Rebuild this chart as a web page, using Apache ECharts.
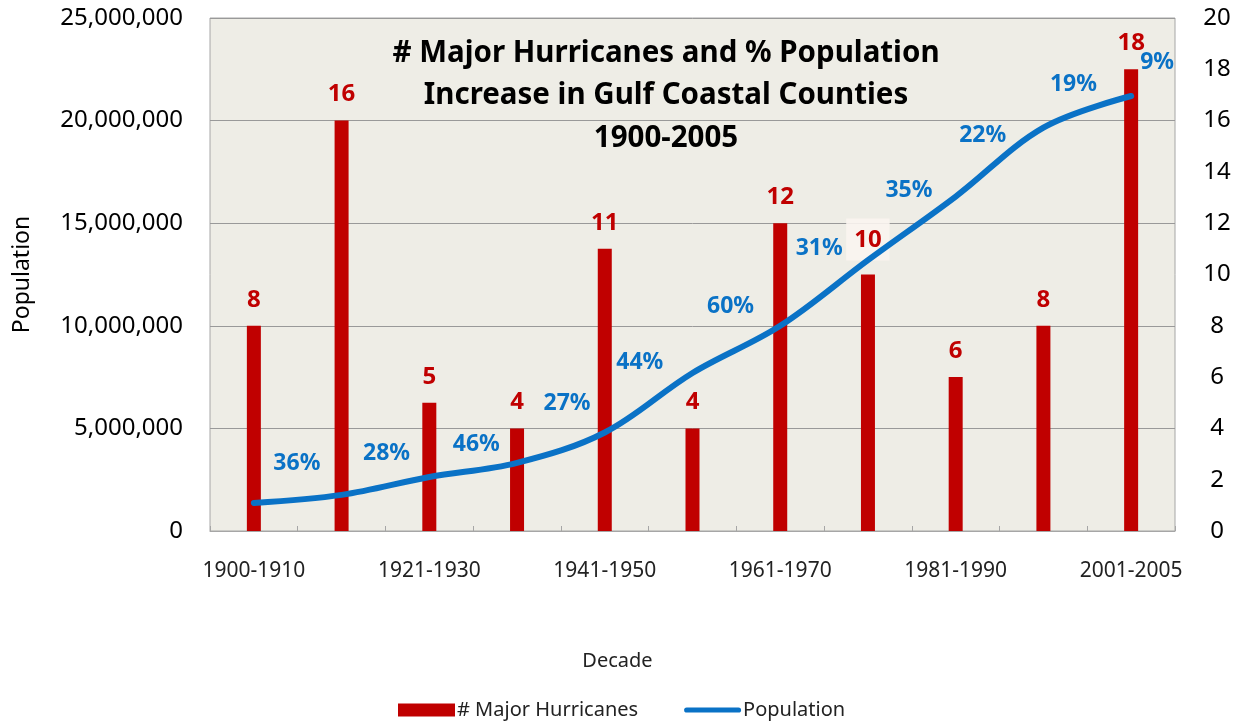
<!DOCTYPE html>
<html>
<head>
<meta charset="utf-8">
<title>Major Hurricanes and Population</title>
<script src="https://cdn.jsdelivr.net/npm/echarts@6/dist/echarts.min.js"></script>
<style>
  html, body { margin: 0; padding: 0; background: #fff; }
  #chart { width: 1242px; height: 721px; }
</style>
</head>
<body>
<div id="chart"></div>
<script>
// data
var decades = ['1900-1910', '1911-1920', '1921-1930', '1931-1940', '1941-1950', '1951-1960',
  '1961-1970', '1971-1980', '1981-1990', '1991-2000', '2001-2005'];
var hurricanes = [8, 16, 5, 4, 11, 4, 12, 10, 6, 8, 18];
var population = [1370000, 1760000, 2630000, 3320000, 4800000, 7700000,
  10000000, 13200000, 16300000, 19660000, 21200000];
var pctIncrease = ['36%', '28%', '46%', '27%', '44%', '60%', '31%', '35%', '22%', '19%', '9%'];
var leftTicks = [0, 5000000, 10000000, 15000000, 20000000, 25000000];

// where each % label sits relative to its point (px)
var pctOffset = [[43, -39], [45, -41], [47, -33], [50, -59], [35, -70], [38, -67],
  [39, -77], [41, -70], [27, -61], [30, -43], [26, -34]];

var RED = '#c00000';
var BLUE = '#0a72c6';
var FONT = '"Noto Sans", "DejaVu Sans", sans-serif';

var chart = echarts.init(document.getElementById('chart'));

var barData = hurricanes.map(function (v, i) {
  var item = { value: v };
  if (decades[i] === '1971-1980') {
    // label overlaps the line, so it gets a pale box
    item.label = { backgroundColor: 'rgba(250,244,240,0.9)', padding: [10, 8, 8, 8] };
  }
  return item;
});

var lineData = population.map(function (v, i) {
  return { value: v, label: { offset: pctOffset[i] } };
});

var option = {
  backgroundColor: '#fff',
  textStyle: { fontFamily: FONT },
  title: {
    text: '# Major Hurricanes and % Population\nIncrease in Gulf Coastal Counties\n1900-2005',
    left: 666,
    top: 32,
    padding: 0,
    textAlign: 'center',
    textStyle: { fontFamily: FONT, fontSize: 29.5, fontWeight: 'bold', color: '#000', lineHeight: 42.5 }
  },
  grid: {
    left: 210, right: 67, top: 18, bottom: 190,
    show: true, backgroundColor: '#eeede6', borderColor: '#a6a6a6', borderWidth: 1
  },
  legend: {
    left: 393, top: 695,
    itemWidth: 57, itemHeight: 13, itemGap: 46,
    textStyle: { fontFamily: FONT, fontSize: 20, color: '#222', padding: [0, 0, 0, -3] },
    data: [
      { name: '# Major Hurricanes', icon: 'rect' },
      { name: 'Population', icon: 'path://M3,0 L63,0 A3,3 0 0 1 63,6 L3,6 A3,3 0 0 1 3,0 Z' }
    ]
  },
  xAxis: {
    type: 'category',
    data: decades,
    boundaryGap: true,
    name: 'Decade',
    nameLocation: 'middle',
    nameGap: 120,
    nameTextStyle: { fontFamily: FONT, fontSize: 20, color: '#222', padding: [0, 150, 0, 0] },
    axisLine: { lineStyle: { color: '#a6a6a6' } },
    axisTick: { show: true, inside: true, length: 5, interval: 0, lineStyle: { color: '#a6a6a6' } },
    axisLabel: { interval: 1, margin: 30, fontSize: 21, color: '#222', fontFamily: FONT }
  },
  yAxis: [
    {
      type: 'value',
      min: 0, max: 25000000, interval: 5000000,
      name: 'Population',
      nameLocation: 'middle',
      nameGap: 176,
      nameTextStyle: { fontFamily: FONT, fontSize: 23, color: '#000' },
      axisLine: { show: false },
      axisTick: { show: false },
      splitLine: { lineStyle: { color: '#999', width: 1 } },
      axisLabel: {
        margin: 27, fontSize: 24, color: '#000', fontFamily: FONT,
        customValues: leftTicks,
        formatter: function (v) { return v.toLocaleString('en-US'); }
      }
    },
    {
      type: 'value',
      min: 0, max: 20, interval: 2,
      position: 'right',
      axisLine: { show: false },
      axisTick: { show: false },
      splitLine: { show: false },
      axisLabel: { margin: 42, align: 'center', fontSize: 24, color: '#000', fontFamily: FONT }
    }
  ],
  series: [
    {
      name: '# Major Hurricanes',
      type: 'bar',
      yAxisIndex: 1,
      barWidth: 14,
      itemStyle: { color: RED },
      label: {
        show: true, position: 'top', distance: 14,
        color: RED, fontSize: 24, fontWeight: 'bold', fontFamily: FONT
      },
      data: barData,
      z: 2
    },
    {
      name: 'Population',
      type: 'line',
      yAxisIndex: 0,
      smooth: 0.35,
      symbol: 'circle',
      symbolSize: 2,
      itemStyle: { color: BLUE },
      lineStyle: { color: BLUE, width: 6, cap: 'round' },
      label: {
        show: true, position: 'inside',
        color: BLUE, fontSize: 23, fontWeight: 'bold', fontFamily: FONT,
        formatter: function (p) { return pctIncrease[p.dataIndex]; }
      },
      data: lineData,
      z: 3
    }
  ]
};

chart.setOption(option);
</script>
</body>
</html>
